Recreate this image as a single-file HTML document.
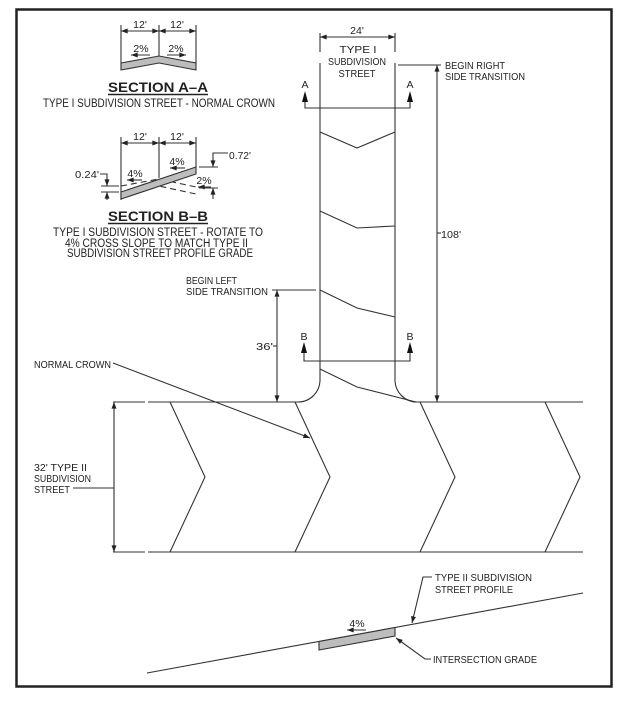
<!DOCTYPE html>
<html><head><meta charset="utf-8"><style>
html,body{margin:0;padding:0;background:#fff;}
svg{display:block;}
text{font-family:"Liberation Sans",sans-serif;fill:#222;}
</style></head><body>
<svg width="627" height="701" viewBox="0 0 627 701" xmlns="http://www.w3.org/2000/svg">
<defs>
<marker id="a" viewBox="0 0 8 6" refX="8" refY="3" markerWidth="7" markerHeight="5" markerUnits="userSpaceOnUse" orient="auto-start-reverse"><path d="M0,0 L8,3 L0,6 z" fill="#222"/></marker>
</defs>
<rect x="0" y="0" width="627" height="701" fill="#fff"/>
<rect x="16.5" y="9.5" width="595" height="677" fill="none" stroke="#222" stroke-width="2.5"/>

<g stroke="#333" stroke-width="1.1" fill="none">
<!-- SECTION A-A -->
<path d="M121 25V63M159 25V58M196 25V63"/>
<path d="M121 31H159" marker-start="url(#a)" marker-end="url(#a)"/>
<path d="M159 31H196" marker-start="url(#a)" marker-end="url(#a)"/>
<polygon points="121,63 159,56 196,63 196,70 159,63 121,70" fill="#bdbdbd"/>
<path d="M150 55H131" marker-end="url(#a)"/>
<path d="M167 55H186" marker-end="url(#a)"/>

<!-- SECTION B-B -->
<path d="M121 137V200M159 137V178M196 137V168"/>
<path d="M121 143H159" marker-start="url(#a)" marker-end="url(#a)"/>
<path d="M159 143H196" marker-start="url(#a)" marker-end="url(#a)"/>
<path d="M121 186L159 179L196 187M121 193L159 186L196 194" stroke-dasharray="6,4"/>
<polygon points="121,192 196,167 196,174 121,199" fill="#bdbdbd"/>
<path d="M142 180H127" marker-end="url(#a)"/>
<path d="M185 168H170" marker-end="url(#a)"/>
<path d="M211 187H198" marker-end="url(#a)"/>
<path d="M228 153H213V167" marker-end="url(#a)"/>
<path d="M213 199V188" marker-end="url(#a)"/>
<path d="M199 167H218M199 188H218"/>
<path d="M100 174H107V186" marker-end="url(#a)"/>
<path d="M107 200V192" marker-end="url(#a)"/>
<path d="M101 186H119M101 192H119"/>

<!-- TYPE I street -->
<path d="M320 33V52M320 63V380A22 22 0 0 1 298 402"/>
<path d="M395 33V52M395 63V380A22 22 0 0 0 417 402"/>
<path d="M320 37H395" marker-start="url(#a)" marker-end="url(#a)"/>
<path d="M320 132L357 148L395 132"/>
<path d="M320 211L357 228L395 226"/>
<path d="M320 290L357 308L395 317"/>
<path d="M320 369L357 387L416 402"/>
<!-- section cuts -->
<path d="M305 102V108H410V102"/>
<path d="M304 353V361H410V353"/>

<!-- main road -->
<path d="M113 402H145M148 402H298M417 402H583"/>
<path d="M113 552H145M148 552H583"/>
<path d="M170 402L205 477L170 552"/>
<path d="M295 402L330 477L295 552"/>
<path d="M420 402L455 477L420 552"/>
<path d="M545 402L580 477L545 552"/>
<path d="M114 402V552" marker-start="url(#a)" marker-end="url(#a)"/>
<path d="M73 488H114"/>
<path d="M113 363L310 438" marker-end="url(#a)"/>

<!-- 36' -->
<path d="M272 290H316"/>
<path d="M277 290V402" marker-start="url(#a)" marker-end="url(#a)"/>
<path d="M273 346H277"/>
<!-- 108' -->
<path d="M398 65H441"/>
<path d="M437 65V402" marker-start="url(#a)" marker-end="url(#a)"/>
<path d="M437 233H441"/>

<!-- profile -->
<path d="M147 673L583 593"/>
<polygon points="319,641.5 395,627.5 395,636 319,650" fill="#bdbdbd"/>
<path d="M366 630H347" marker-end="url(#a)"/>
<path d="M432 577H423L412 623" marker-end="url(#a)"/>
<path d="M431 659H425L396 638" marker-end="url(#a)"/>
</g>

<!-- section cut arrowheads -->
<g fill="#111">
<polygon points="305,91 302,102 308,102"/>
<polygon points="410,91 407,102 413,102"/>
<polygon points="304,342 301,353 307,353"/>
<polygon points="410,342 407,353 413,353"/>
</g>

<!-- TEXT -->
<g font-size="10.5">
<text x="140" y="28" text-anchor="middle">12'</text>
<text x="177" y="28" text-anchor="middle">12'</text>
<text x="141" y="52" text-anchor="middle">2%</text>
<text x="176" y="52" text-anchor="middle">2%</text>

<text x="140" y="140" text-anchor="middle">12'</text>
<text x="177" y="140" text-anchor="middle">12'</text>
<text x="135" y="177" text-anchor="middle">4%</text>
<text x="177" y="165" text-anchor="middle">4%</text>
<text x="204" y="184" text-anchor="middle">2%</text>
<text x="229" y="159" textLength="22" lengthAdjust="spacingAndGlyphs">0.72'</text>
<text x="75" y="178" textLength="24" lengthAdjust="spacingAndGlyphs">0.24'</text>

<text x="357" y="34" text-anchor="middle">24'</text>
<text x="358" y="53" text-anchor="middle" textLength="37" lengthAdjust="spacingAndGlyphs">TYPE I</text>
<text x="357" y="65" text-anchor="middle" textLength="58" lengthAdjust="spacingAndGlyphs">SUBDIVISION</text>
<text x="357" y="77" text-anchor="middle" textLength="37" lengthAdjust="spacingAndGlyphs">STREET</text>
<text x="305" y="88" text-anchor="middle">A</text>
<text x="410" y="88" text-anchor="middle">A</text>
<text x="304" y="340" text-anchor="middle">B</text>
<text x="410" y="340" text-anchor="middle">B</text>

<text x="445" y="69" textLength="60" lengthAdjust="spacingAndGlyphs">BEGIN RIGHT</text>
<text x="445" y="80" textLength="80" lengthAdjust="spacingAndGlyphs">SIDE TRANSITION</text>
<text x="441" y="238" textLength="20" lengthAdjust="spacingAndGlyphs">108'</text>

<text x="186" y="284" textLength="51" lengthAdjust="spacingAndGlyphs">BEGIN LEFT</text>
<text x="186" y="295" textLength="82" lengthAdjust="spacingAndGlyphs">SIDE TRANSITION</text>
<text x="256" y="350" textLength="17" lengthAdjust="spacingAndGlyphs">36'</text>

<text x="34" y="368" textLength="77" lengthAdjust="spacingAndGlyphs">NORMAL CROWN</text>
<text x="34" y="471" textLength="53" lengthAdjust="spacingAndGlyphs">32' TYPE II</text>
<text x="34" y="482" textLength="57" lengthAdjust="spacingAndGlyphs">SUBDIVISION</text>
<text x="34" y="493" textLength="36" lengthAdjust="spacingAndGlyphs">STREET</text>

<text x="357" y="627" text-anchor="middle">4%</text>
<text x="435" y="581" textLength="97" lengthAdjust="spacingAndGlyphs">TYPE II SUBDIVISION</text>
<text x="435" y="593" textLength="78" lengthAdjust="spacingAndGlyphs">STREET PROFILE</text>
<text x="433" y="663" textLength="104" lengthAdjust="spacingAndGlyphs">INTERSECTION GRADE</text>
</g>

<g font-size="11.5">
<text x="43" y="107" textLength="232" lengthAdjust="spacingAndGlyphs">TYPE I SUBDIVISION STREET - NORMAL CROWN</text>
<text x="53" y="236" textLength="210" lengthAdjust="spacingAndGlyphs">TYPE I SUBDIVISION STREET - ROTATE TO</text>
<text x="65" y="247" textLength="183" lengthAdjust="spacingAndGlyphs">4% CROSS SLOPE TO MATCH TYPE II</text>
<text x="67" y="257" textLength="186" lengthAdjust="spacingAndGlyphs">SUBDIVISION STREET PROFILE GRADE</text>
</g>

<g font-size="14" font-weight="bold">
<text x="108" y="92" textLength="100" lengthAdjust="spacingAndGlyphs">SECTION  A–A</text>
<text x="108" y="221" textLength="100" lengthAdjust="spacingAndGlyphs">SECTION  B–B</text>
</g>
<path d="M108 94.5H208M108 223.5H208" stroke="#222" stroke-width="1.5"/>
</svg>
</body></html>
